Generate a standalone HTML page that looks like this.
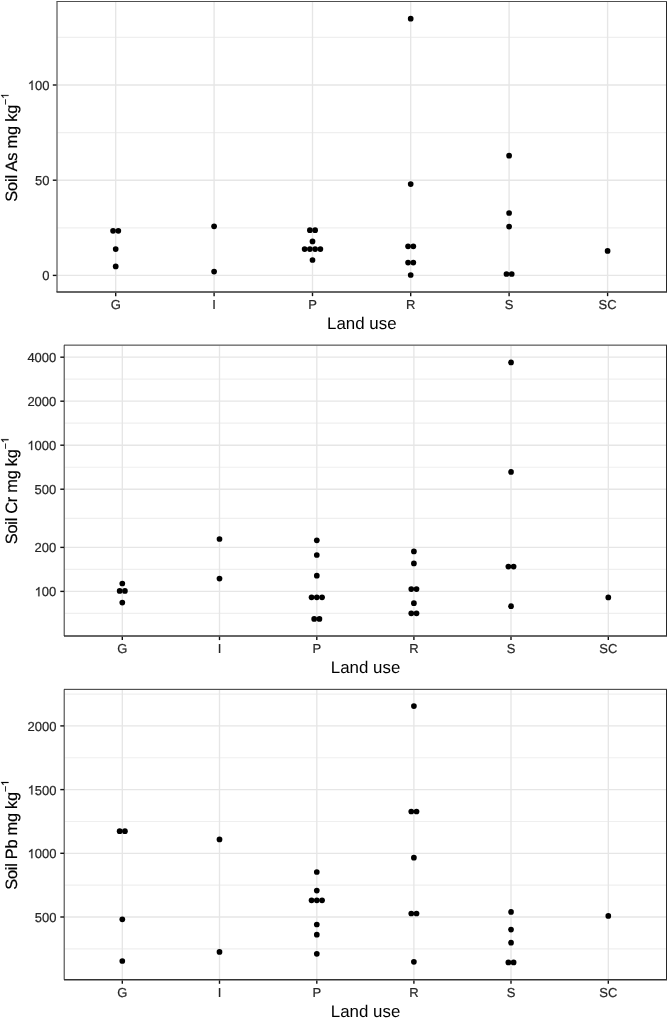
<!DOCTYPE html><html><head><meta charset="utf-8"><style>html,body{margin:0;padding:0;background:#fff;overflow:hidden;}svg{display:block;filter:grayscale(100%);text-rendering:geometricPrecision;}</style></head><body>
<svg width="667" height="1018" viewBox="0 0 667 1018" font-family='"Liberation Sans", sans-serif'>
<rect width="667" height="1018" fill="#fff"/>
<line x1="57.50" x2="666.10" y1="227.80" y2="227.80" stroke="#EFEFEF" stroke-width="1.15"/>
<line x1="57.50" x2="666.10" y1="132.60" y2="132.60" stroke="#EFEFEF" stroke-width="1.15"/>
<line x1="57.50" x2="666.10" y1="37.40" y2="37.40" stroke="#EFEFEF" stroke-width="1.15"/>
<line x1="57.50" x2="666.10" y1="275.40" y2="275.40" stroke="#E6E6E6" stroke-width="1.35"/>
<line x1="57.50" x2="666.10" y1="180.20" y2="180.20" stroke="#E6E6E6" stroke-width="1.35"/>
<line x1="57.50" x2="666.10" y1="85.00" y2="85.00" stroke="#E6E6E6" stroke-width="1.35"/>
<line x1="115.70" x2="115.70" y1="2.10" y2="291.35" stroke="#E6E6E6" stroke-width="1.35"/>
<line x1="214.10" x2="214.10" y1="2.10" y2="291.35" stroke="#E6E6E6" stroke-width="1.35"/>
<line x1="312.50" x2="312.50" y1="2.10" y2="291.35" stroke="#E6E6E6" stroke-width="1.35"/>
<line x1="410.70" x2="410.70" y1="2.10" y2="291.35" stroke="#E6E6E6" stroke-width="1.35"/>
<line x1="509.10" x2="509.10" y1="2.10" y2="291.35" stroke="#E6E6E6" stroke-width="1.35"/>
<line x1="607.60" x2="607.60" y1="2.10" y2="291.35" stroke="#E6E6E6" stroke-width="1.35"/>
<circle cx="113.08" cy="230.80" r="2.85" fill="#000"/>
<circle cx="118.33" cy="230.80" r="2.85" fill="#000"/>
<circle cx="115.70" cy="249.10" r="2.85" fill="#000"/>
<circle cx="115.70" cy="266.40" r="2.85" fill="#000"/>
<circle cx="214.10" cy="226.30" r="2.85" fill="#000"/>
<circle cx="214.10" cy="271.60" r="2.85" fill="#000"/>
<circle cx="309.88" cy="230.20" r="2.85" fill="#000"/>
<circle cx="315.12" cy="230.20" r="2.85" fill="#000"/>
<circle cx="312.50" cy="241.40" r="2.85" fill="#000"/>
<circle cx="304.62" cy="249.10" r="2.85" fill="#000"/>
<circle cx="309.88" cy="249.10" r="2.85" fill="#000"/>
<circle cx="315.12" cy="249.10" r="2.85" fill="#000"/>
<circle cx="320.38" cy="249.10" r="2.85" fill="#000"/>
<circle cx="312.50" cy="260.00" r="2.85" fill="#000"/>
<circle cx="410.70" cy="18.70" r="2.85" fill="#000"/>
<circle cx="410.70" cy="184.10" r="2.85" fill="#000"/>
<circle cx="408.07" cy="246.30" r="2.85" fill="#000"/>
<circle cx="413.32" cy="246.30" r="2.85" fill="#000"/>
<circle cx="408.07" cy="262.60" r="2.85" fill="#000"/>
<circle cx="413.32" cy="262.60" r="2.85" fill="#000"/>
<circle cx="410.70" cy="275.00" r="2.85" fill="#000"/>
<circle cx="509.10" cy="155.70" r="2.85" fill="#000"/>
<circle cx="509.10" cy="213.00" r="2.85" fill="#000"/>
<circle cx="509.10" cy="226.60" r="2.85" fill="#000"/>
<circle cx="506.48" cy="274.00" r="2.85" fill="#000"/>
<circle cx="511.73" cy="274.00" r="2.85" fill="#000"/>
<circle cx="607.60" cy="250.90" r="2.85" fill="#000"/>
<line x1="57.00" x2="57.00" y1="1.50" y2="292.05" stroke="#333333" stroke-width="1.0"/>
<line x1="666.60" x2="666.60" y1="1.50" y2="292.05" stroke="#111" stroke-width="1.0"/>
<line x1="56.50" x2="667.10" y1="1.50" y2="1.50" stroke="#505050" stroke-width="1.2"/>
<line x1="56.50" x2="667.10" y1="292.05" y2="292.05" stroke="#333333" stroke-width="1.5"/>
<line x1="52.80" x2="56.50" y1="275.40" y2="275.40" stroke="#111111" stroke-width="1.4"/>
<text x="42.27" y="280.30" font-size="13.0" fill="#262626" stroke="#262626" stroke-width="0.2">0</text>
<line x1="52.80" x2="56.50" y1="180.20" y2="180.20" stroke="#111111" stroke-width="1.4"/>
<text x="35.04" y="185.10" font-size="13.0" fill="#262626" stroke="#262626" stroke-width="0.2">50</text>
<line x1="52.80" x2="56.50" y1="85.00" y2="85.00" stroke="#111111" stroke-width="1.4"/>
<path transform="translate(27.81 89.90) scale(0.00635 -0.00635)" d="M763,0 L583,0 L583,1147 Q518,1085 412.5,1023 Q307,961 223,930 L223,1104 Q374,1175 487.5,1276 Q601,1377 649,1466 L763,1466 Z" fill="#262626" stroke="#262626" stroke-width="31.5"/>
<text x="35.04" y="89.90" font-size="13.0" fill="#262626" stroke="#262626" stroke-width="0.2">00</text>
<line x1="115.70" x2="115.70" y1="292.75" y2="296.15" stroke="#111111" stroke-width="1.4"/>
<text x="115.70" y="309.15" font-size="13.0" fill="#262626" stroke="#262626" stroke-width="0.2" text-anchor="middle">G</text>
<line x1="214.10" x2="214.10" y1="292.75" y2="296.15" stroke="#111111" stroke-width="1.4"/>
<text x="214.10" y="309.15" font-size="13.0" fill="#262626" stroke="#262626" stroke-width="0.2" text-anchor="middle">I</text>
<line x1="312.50" x2="312.50" y1="292.75" y2="296.15" stroke="#111111" stroke-width="1.4"/>
<text x="312.50" y="309.15" font-size="13.0" fill="#262626" stroke="#262626" stroke-width="0.2" text-anchor="middle">P</text>
<line x1="410.70" x2="410.70" y1="292.75" y2="296.15" stroke="#111111" stroke-width="1.4"/>
<text x="410.70" y="309.15" font-size="13.0" fill="#262626" stroke="#262626" stroke-width="0.2" text-anchor="middle">R</text>
<line x1="509.10" x2="509.10" y1="292.75" y2="296.15" stroke="#111111" stroke-width="1.4"/>
<text x="509.10" y="309.15" font-size="13.0" fill="#262626" stroke="#262626" stroke-width="0.2" text-anchor="middle">S</text>
<line x1="607.60" x2="607.60" y1="292.75" y2="296.15" stroke="#111111" stroke-width="1.4"/>
<text x="607.60" y="309.15" font-size="13.0" fill="#262626" stroke="#262626" stroke-width="0.2" text-anchor="middle">SC</text>
<text x="361.80" y="329.05" font-size="16.9" fill="#000" text-anchor="middle">Land use</text>
<g transform="translate(16.7 201.70) rotate(-90)">
<text x="0.00" y="0.00" font-size="16.4" fill="#000" stroke="#000" stroke-width="0.2" letter-spacing="-0.18">Soil As mg kg</text>
<text x="96.82" y="-8.20" font-size="10.4" fill="#000" stroke="#000" stroke-width="0.2">−</text>
<path transform="translate(102.89 -8.20) scale(0.00508 -0.00508)" d="M763,0 L583,0 L583,1147 Q518,1085 412.5,1023 Q307,961 223,930 L223,1104 Q374,1175 487.5,1276 Q601,1377 649,1466 L763,1466 Z" fill="#000" stroke="#000" stroke-width="39.4"/>
</g>
<line x1="65.00" x2="666.10" y1="613.41" y2="613.41" stroke="#EFEFEF" stroke-width="1.15"/>
<line x1="65.00" x2="666.10" y1="569.39" y2="569.39" stroke="#EFEFEF" stroke-width="1.15"/>
<line x1="65.00" x2="666.10" y1="518.30" y2="518.30" stroke="#EFEFEF" stroke-width="1.15"/>
<line x1="65.00" x2="666.10" y1="467.21" y2="467.21" stroke="#EFEFEF" stroke-width="1.15"/>
<line x1="65.00" x2="666.10" y1="423.19" y2="423.19" stroke="#EFEFEF" stroke-width="1.15"/>
<line x1="65.00" x2="666.10" y1="379.18" y2="379.18" stroke="#EFEFEF" stroke-width="1.15"/>
<line x1="65.00" x2="666.10" y1="591.40" y2="591.40" stroke="#E6E6E6" stroke-width="1.35"/>
<line x1="65.00" x2="666.10" y1="547.39" y2="547.39" stroke="#E6E6E6" stroke-width="1.35"/>
<line x1="65.00" x2="666.10" y1="489.21" y2="489.21" stroke="#E6E6E6" stroke-width="1.35"/>
<line x1="65.00" x2="666.10" y1="445.20" y2="445.20" stroke="#E6E6E6" stroke-width="1.35"/>
<line x1="65.00" x2="666.10" y1="401.19" y2="401.19" stroke="#E6E6E6" stroke-width="1.35"/>
<line x1="65.00" x2="666.10" y1="357.18" y2="357.18" stroke="#E6E6E6" stroke-width="1.35"/>
<line x1="122.30" x2="122.30" y1="345.74" y2="635.30" stroke="#E6E6E6" stroke-width="1.35"/>
<line x1="219.50" x2="219.50" y1="345.74" y2="635.30" stroke="#E6E6E6" stroke-width="1.35"/>
<line x1="316.80" x2="316.80" y1="345.74" y2="635.30" stroke="#E6E6E6" stroke-width="1.35"/>
<line x1="413.90" x2="413.90" y1="345.74" y2="635.30" stroke="#E6E6E6" stroke-width="1.35"/>
<line x1="511.00" x2="511.00" y1="345.74" y2="635.30" stroke="#E6E6E6" stroke-width="1.35"/>
<line x1="608.30" x2="608.30" y1="345.74" y2="635.30" stroke="#E6E6E6" stroke-width="1.35"/>
<circle cx="122.30" cy="583.50" r="2.85" fill="#000"/>
<circle cx="119.67" cy="590.90" r="2.85" fill="#000"/>
<circle cx="124.92" cy="590.90" r="2.85" fill="#000"/>
<circle cx="122.30" cy="602.60" r="2.85" fill="#000"/>
<circle cx="219.50" cy="539.00" r="2.85" fill="#000"/>
<circle cx="219.50" cy="578.60" r="2.85" fill="#000"/>
<circle cx="316.80" cy="540.30" r="2.85" fill="#000"/>
<circle cx="316.80" cy="555.00" r="2.85" fill="#000"/>
<circle cx="316.80" cy="575.70" r="2.85" fill="#000"/>
<circle cx="311.55" cy="597.30" r="2.85" fill="#000"/>
<circle cx="316.80" cy="597.30" r="2.85" fill="#000"/>
<circle cx="322.05" cy="597.30" r="2.85" fill="#000"/>
<circle cx="314.18" cy="618.90" r="2.85" fill="#000"/>
<circle cx="319.43" cy="618.90" r="2.85" fill="#000"/>
<circle cx="413.90" cy="551.40" r="2.85" fill="#000"/>
<circle cx="413.90" cy="563.40" r="2.85" fill="#000"/>
<circle cx="411.27" cy="589.10" r="2.85" fill="#000"/>
<circle cx="416.52" cy="589.10" r="2.85" fill="#000"/>
<circle cx="413.90" cy="603.20" r="2.85" fill="#000"/>
<circle cx="411.27" cy="613.30" r="2.85" fill="#000"/>
<circle cx="416.52" cy="613.30" r="2.85" fill="#000"/>
<circle cx="511.00" cy="362.40" r="2.85" fill="#000"/>
<circle cx="511.00" cy="471.90" r="2.85" fill="#000"/>
<circle cx="508.38" cy="566.60" r="2.85" fill="#000"/>
<circle cx="513.62" cy="566.60" r="2.85" fill="#000"/>
<circle cx="511.00" cy="606.20" r="2.85" fill="#000"/>
<circle cx="608.30" cy="597.40" r="2.85" fill="#000"/>
<line x1="64.20" x2="64.20" y1="345.14" y2="636.00" stroke="#333333" stroke-width="1.0"/>
<line x1="666.60" x2="666.60" y1="345.14" y2="636.00" stroke="#111" stroke-width="1.0"/>
<line x1="64.00" x2="667.10" y1="345.14" y2="345.14" stroke="#333" stroke-width="1.0"/>
<line x1="64.00" x2="667.10" y1="636.00" y2="636.00" stroke="#333333" stroke-width="1.5"/>
<line x1="60.30" x2="64.00" y1="591.40" y2="591.40" stroke="#111111" stroke-width="1.4"/>
<path transform="translate(34.61 596.30) scale(0.00635 -0.00635)" d="M763,0 L583,0 L583,1147 Q518,1085 412.5,1023 Q307,961 223,930 L223,1104 Q374,1175 487.5,1276 Q601,1377 649,1466 L763,1466 Z" fill="#262626" stroke="#262626" stroke-width="31.5"/>
<text x="41.84" y="596.30" font-size="13.0" fill="#262626" stroke="#262626" stroke-width="0.2">00</text>
<line x1="60.30" x2="64.00" y1="547.39" y2="547.39" stroke="#111111" stroke-width="1.4"/>
<text x="34.61" y="552.29" font-size="13.0" fill="#262626" stroke="#262626" stroke-width="0.2">200</text>
<line x1="60.30" x2="64.00" y1="489.21" y2="489.21" stroke="#111111" stroke-width="1.4"/>
<text x="34.61" y="494.11" font-size="13.0" fill="#262626" stroke="#262626" stroke-width="0.2">500</text>
<line x1="60.30" x2="64.00" y1="445.20" y2="445.20" stroke="#111111" stroke-width="1.4"/>
<path transform="translate(27.38 450.10) scale(0.00635 -0.00635)" d="M763,0 L583,0 L583,1147 Q518,1085 412.5,1023 Q307,961 223,930 L223,1104 Q374,1175 487.5,1276 Q601,1377 649,1466 L763,1466 Z" fill="#262626" stroke="#262626" stroke-width="31.5"/>
<text x="34.61" y="450.10" font-size="13.0" fill="#262626" stroke="#262626" stroke-width="0.2">000</text>
<line x1="60.30" x2="64.00" y1="401.19" y2="401.19" stroke="#111111" stroke-width="1.4"/>
<text x="27.38" y="406.09" font-size="13.0" fill="#262626" stroke="#262626" stroke-width="0.2">2000</text>
<line x1="60.30" x2="64.00" y1="357.18" y2="357.18" stroke="#111111" stroke-width="1.4"/>
<text x="27.38" y="362.08" font-size="13.0" fill="#262626" stroke="#262626" stroke-width="0.2">4000</text>
<line x1="122.30" x2="122.30" y1="636.70" y2="640.10" stroke="#111111" stroke-width="1.4"/>
<text x="122.30" y="653.10" font-size="13.0" fill="#262626" stroke="#262626" stroke-width="0.2" text-anchor="middle">G</text>
<line x1="219.50" x2="219.50" y1="636.70" y2="640.10" stroke="#111111" stroke-width="1.4"/>
<text x="219.50" y="653.10" font-size="13.0" fill="#262626" stroke="#262626" stroke-width="0.2" text-anchor="middle">I</text>
<line x1="316.80" x2="316.80" y1="636.70" y2="640.10" stroke="#111111" stroke-width="1.4"/>
<text x="316.80" y="653.10" font-size="13.0" fill="#262626" stroke="#262626" stroke-width="0.2" text-anchor="middle">P</text>
<line x1="413.90" x2="413.90" y1="636.70" y2="640.10" stroke="#111111" stroke-width="1.4"/>
<text x="413.90" y="653.10" font-size="13.0" fill="#262626" stroke="#262626" stroke-width="0.2" text-anchor="middle">R</text>
<line x1="511.00" x2="511.00" y1="636.70" y2="640.10" stroke="#111111" stroke-width="1.4"/>
<text x="511.00" y="653.10" font-size="13.0" fill="#262626" stroke="#262626" stroke-width="0.2" text-anchor="middle">S</text>
<line x1="608.30" x2="608.30" y1="636.70" y2="640.10" stroke="#111111" stroke-width="1.4"/>
<text x="608.30" y="653.10" font-size="13.0" fill="#262626" stroke="#262626" stroke-width="0.2" text-anchor="middle">SC</text>
<text x="365.55" y="673.00" font-size="16.9" fill="#000" text-anchor="middle">Land use</text>
<g transform="translate(16.7 544.15) rotate(-90)">
<text x="0.00" y="0.00" font-size="16.4" fill="#000" stroke="#000" stroke-width="0.2" letter-spacing="-0.285">Soil Cr mg kg</text>
<text x="94.97" y="-8.20" font-size="10.4" fill="#000" stroke="#000" stroke-width="0.2">−</text>
<path transform="translate(101.04 -8.20) scale(0.00508 -0.00508)" d="M763,0 L583,0 L583,1147 Q518,1085 412.5,1023 Q307,961 223,930 L223,1104 Q374,1175 487.5,1276 Q601,1377 649,1466 L763,1466 Z" fill="#000" stroke="#000" stroke-width="39.4"/>
</g>
<line x1="65.00" x2="666.10" y1="948.85" y2="948.85" stroke="#EFEFEF" stroke-width="1.15"/>
<line x1="65.00" x2="666.10" y1="885.15" y2="885.15" stroke="#EFEFEF" stroke-width="1.15"/>
<line x1="65.00" x2="666.10" y1="821.45" y2="821.45" stroke="#EFEFEF" stroke-width="1.15"/>
<line x1="65.00" x2="666.10" y1="757.75" y2="757.75" stroke="#EFEFEF" stroke-width="1.15"/>
<line x1="65.00" x2="666.10" y1="694.05" y2="694.05" stroke="#EFEFEF" stroke-width="1.15"/>
<line x1="65.00" x2="666.10" y1="917.00" y2="917.00" stroke="#E6E6E6" stroke-width="1.35"/>
<line x1="65.00" x2="666.10" y1="853.30" y2="853.30" stroke="#E6E6E6" stroke-width="1.35"/>
<line x1="65.00" x2="666.10" y1="789.60" y2="789.60" stroke="#E6E6E6" stroke-width="1.35"/>
<line x1="65.00" x2="666.10" y1="725.90" y2="725.90" stroke="#E6E6E6" stroke-width="1.35"/>
<line x1="122.30" x2="122.30" y1="689.95" y2="979.00" stroke="#E6E6E6" stroke-width="1.35"/>
<line x1="219.50" x2="219.50" y1="689.95" y2="979.00" stroke="#E6E6E6" stroke-width="1.35"/>
<line x1="316.80" x2="316.80" y1="689.95" y2="979.00" stroke="#E6E6E6" stroke-width="1.35"/>
<line x1="413.90" x2="413.90" y1="689.95" y2="979.00" stroke="#E6E6E6" stroke-width="1.35"/>
<line x1="511.00" x2="511.00" y1="689.95" y2="979.00" stroke="#E6E6E6" stroke-width="1.35"/>
<line x1="608.30" x2="608.30" y1="689.95" y2="979.00" stroke="#E6E6E6" stroke-width="1.35"/>
<circle cx="119.67" cy="831.20" r="2.85" fill="#000"/>
<circle cx="124.92" cy="831.20" r="2.85" fill="#000"/>
<circle cx="122.30" cy="919.30" r="2.85" fill="#000"/>
<circle cx="122.30" cy="961.00" r="2.85" fill="#000"/>
<circle cx="219.50" cy="839.40" r="2.85" fill="#000"/>
<circle cx="219.50" cy="951.90" r="2.85" fill="#000"/>
<circle cx="316.80" cy="872.00" r="2.85" fill="#000"/>
<circle cx="316.80" cy="890.60" r="2.85" fill="#000"/>
<circle cx="311.55" cy="900.30" r="2.85" fill="#000"/>
<circle cx="316.80" cy="900.30" r="2.85" fill="#000"/>
<circle cx="322.05" cy="900.30" r="2.85" fill="#000"/>
<circle cx="316.80" cy="924.50" r="2.85" fill="#000"/>
<circle cx="316.80" cy="934.70" r="2.85" fill="#000"/>
<circle cx="316.80" cy="953.80" r="2.85" fill="#000"/>
<circle cx="413.90" cy="706.10" r="2.85" fill="#000"/>
<circle cx="411.27" cy="811.50" r="2.85" fill="#000"/>
<circle cx="416.52" cy="811.50" r="2.85" fill="#000"/>
<circle cx="413.90" cy="857.70" r="2.85" fill="#000"/>
<circle cx="411.27" cy="913.50" r="2.85" fill="#000"/>
<circle cx="416.52" cy="913.50" r="2.85" fill="#000"/>
<circle cx="413.90" cy="961.80" r="2.85" fill="#000"/>
<circle cx="511.00" cy="911.90" r="2.85" fill="#000"/>
<circle cx="511.00" cy="929.60" r="2.85" fill="#000"/>
<circle cx="511.00" cy="942.70" r="2.85" fill="#000"/>
<circle cx="508.38" cy="962.40" r="2.85" fill="#000"/>
<circle cx="513.62" cy="962.40" r="2.85" fill="#000"/>
<circle cx="608.30" cy="915.90" r="2.85" fill="#000"/>
<line x1="64.20" x2="64.20" y1="689.35" y2="979.70" stroke="#333333" stroke-width="1.0"/>
<line x1="666.60" x2="666.60" y1="689.35" y2="979.70" stroke="#111" stroke-width="1.0"/>
<line x1="64.00" x2="667.10" y1="689.35" y2="689.35" stroke="#333" stroke-width="1.0"/>
<line x1="64.00" x2="667.10" y1="979.70" y2="979.70" stroke="#333333" stroke-width="1.5"/>
<line x1="60.30" x2="64.00" y1="917.00" y2="917.00" stroke="#111111" stroke-width="1.4"/>
<text x="34.81" y="921.90" font-size="13.0" fill="#262626" stroke="#262626" stroke-width="0.2">500</text>
<line x1="60.30" x2="64.00" y1="853.30" y2="853.30" stroke="#111111" stroke-width="1.4"/>
<path transform="translate(27.58 858.20) scale(0.00635 -0.00635)" d="M763,0 L583,0 L583,1147 Q518,1085 412.5,1023 Q307,961 223,930 L223,1104 Q374,1175 487.5,1276 Q601,1377 649,1466 L763,1466 Z" fill="#262626" stroke="#262626" stroke-width="31.5"/>
<text x="34.81" y="858.20" font-size="13.0" fill="#262626" stroke="#262626" stroke-width="0.2">000</text>
<line x1="60.30" x2="64.00" y1="789.60" y2="789.60" stroke="#111111" stroke-width="1.4"/>
<path transform="translate(27.58 794.50) scale(0.00635 -0.00635)" d="M763,0 L583,0 L583,1147 Q518,1085 412.5,1023 Q307,961 223,930 L223,1104 Q374,1175 487.5,1276 Q601,1377 649,1466 L763,1466 Z" fill="#262626" stroke="#262626" stroke-width="31.5"/>
<text x="34.81" y="794.50" font-size="13.0" fill="#262626" stroke="#262626" stroke-width="0.2">500</text>
<line x1="60.30" x2="64.00" y1="725.90" y2="725.90" stroke="#111111" stroke-width="1.4"/>
<text x="27.58" y="730.80" font-size="13.0" fill="#262626" stroke="#262626" stroke-width="0.2">2000</text>
<line x1="122.30" x2="122.30" y1="980.40" y2="983.80" stroke="#111111" stroke-width="1.4"/>
<text x="122.30" y="996.80" font-size="13.0" fill="#262626" stroke="#262626" stroke-width="0.2" text-anchor="middle">G</text>
<line x1="219.50" x2="219.50" y1="980.40" y2="983.80" stroke="#111111" stroke-width="1.4"/>
<text x="219.50" y="996.80" font-size="13.0" fill="#262626" stroke="#262626" stroke-width="0.2" text-anchor="middle">I</text>
<line x1="316.80" x2="316.80" y1="980.40" y2="983.80" stroke="#111111" stroke-width="1.4"/>
<text x="316.80" y="996.80" font-size="13.0" fill="#262626" stroke="#262626" stroke-width="0.2" text-anchor="middle">P</text>
<line x1="413.90" x2="413.90" y1="980.40" y2="983.80" stroke="#111111" stroke-width="1.4"/>
<text x="413.90" y="996.80" font-size="13.0" fill="#262626" stroke="#262626" stroke-width="0.2" text-anchor="middle">R</text>
<line x1="511.00" x2="511.00" y1="980.40" y2="983.80" stroke="#111111" stroke-width="1.4"/>
<text x="511.00" y="996.80" font-size="13.0" fill="#262626" stroke="#262626" stroke-width="0.2" text-anchor="middle">S</text>
<line x1="608.30" x2="608.30" y1="980.40" y2="983.80" stroke="#111111" stroke-width="1.4"/>
<text x="608.30" y="996.80" font-size="13.0" fill="#262626" stroke="#262626" stroke-width="0.2" text-anchor="middle">SC</text>
<text x="365.55" y="1016.70" font-size="16.9" fill="#000" text-anchor="middle">Land use</text>
<g transform="translate(16.7 889.70) rotate(-90)">
<text x="0.00" y="0.00" font-size="16.4" fill="#000" stroke="#000" stroke-width="0.2" letter-spacing="-0.285">Soil Pb mg kg</text>
<text x="97.72" y="-8.20" font-size="10.4" fill="#000" stroke="#000" stroke-width="0.2">−</text>
<path transform="translate(103.80 -8.20) scale(0.00508 -0.00508)" d="M763,0 L583,0 L583,1147 Q518,1085 412.5,1023 Q307,961 223,930 L223,1104 Q374,1175 487.5,1276 Q601,1377 649,1466 L763,1466 Z" fill="#000" stroke="#000" stroke-width="39.4"/>
</g>
</svg></body></html>
